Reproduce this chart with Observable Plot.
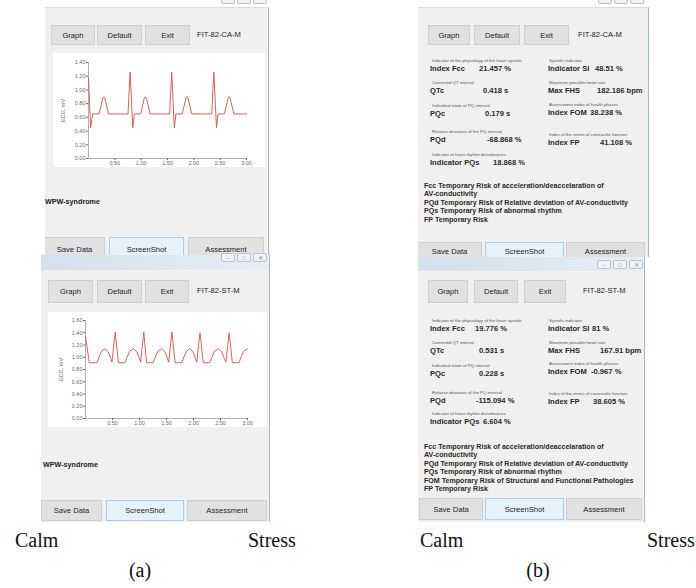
<!DOCTYPE html>
<html><head><meta charset="utf-8">
<script src="https://cdn.jsdelivr.net/npm/d3@7"></script>
<script src="https://cdn.jsdelivr.net/npm/@observablehq/plot@0.6"></script>
<style>
html,body{margin:0;padding:0;background:#fff;}
#page{position:relative;width:696px;height:588px;overflow:hidden;font-family:"Liberation Sans",Arial,sans-serif;}
.abs{position:absolute;box-sizing:border-box;}
.win{background:#f0f0f0;}
.btn{background:#e1e1e1;border:1px solid #cfcfcf;color:#222;font-size:7.6px;display:flex;align-items:center;justify-content:center;}
.btn.blue{background:#e5f1fb;border:1px solid #a8cdee;}
.t{position:absolute;white-space:nowrap;line-height:1;}
.title{background:linear-gradient(to right,#d3e0ed,#e6eef7);}
.ic{position:absolute;width:14px;height:9px;border:1px solid #b8c4d0;border-radius:2px;background:#eef3f8;color:#8a97a6;font-size:6px;display:flex;align-items:center;justify-content:center;box-sizing:border-box;}
.cap{font-family:"Liberation Serif","Times New Roman",serif;font-size:20px;color:#111;}
</style></head>
<body><div id="page"></div>
<script>
// ---------- data ----------
const xTicks = [0.5, 1.0, 1.5, 2.0, 2.5, 3.0];
const calmYTicks = [0, 0.2, 0.4, 0.6, 0.8, 1.0, 1.2, 1.4];
const stressYTicks = [0, 0.2, 0.4, 0.6, 0.8, 1.0, 1.2, 1.4, 1.6];

// Calm ECG (time s, mV)
const calmTime = [0.00,0.04,0.08,0.20,0.24,0.27,0.29,0.31,0.34,0.38,0.75,0.79,0.84,0.87,0.99,1.03,1.06,1.08,1.10,1.13,1.17,1.54,1.58,1.63,1.66,1.78,1.82,1.85,1.87,1.89,1.92,1.96,2.34,2.38,2.43,2.46,2.58,2.62,2.65,2.67,2.69,2.72,2.76,3.00];
const calmECG  = [1.17,0.45,0.65,0.65,0.78,0.88,0.90,0.88,0.78,0.65,0.65,1.26,0.45,0.65,0.65,0.78,0.88,0.90,0.88,0.78,0.65,0.65,1.26,0.45,0.65,0.65,0.78,0.88,0.90,0.88,0.78,0.65,0.65,1.26,0.45,0.65,0.65,0.78,0.88,0.90,0.88,0.78,0.65,0.65];

// Stress ECG (time s, mV)
const stressTime = [0.00,0.07,0.21,0.25,0.30,0.36,0.42,0.46,0.49,0.55,0.61,0.73,0.77,0.82,0.89,0.95,0.99,1.02,1.08,1.13,1.25,1.29,1.34,1.41,1.47,1.51,1.54,1.60,1.66,1.78,1.82,1.87,1.93,1.99,2.03,2.06,2.12,2.18,2.30,2.34,2.39,2.46,2.52,2.56,2.60,2.66,2.72,2.84,2.88,2.93,3.00];
const stressECG  = [1.34,0.91,0.91,1.00,1.10,1.14,1.09,1.00,0.92,1.41,0.91,0.91,1.00,1.10,1.14,1.09,1.00,0.92,1.41,0.91,0.91,1.00,1.10,1.14,1.09,1.00,0.92,1.41,0.91,0.91,1.00,1.10,1.14,1.09,1.00,0.92,1.40,0.91,0.91,1.00,1.10,1.14,1.09,1.00,0.92,1.40,0.91,0.91,1.00,1.10,1.14];

const buttonsTop = ["Graph", "Default", "Exit"];
const buttonsBottom = ["Save Data", "ScreenShot", "Assessment"];
const calmId = "FIT-82-CA-M";
const stressId = "FIT-82-ST-M";
const diagnosis = "WPW-syndrome";

const leftCaptions = ["Indicator of the physiology of the heart systole","Corrected QT interval","Individual norm of PQ interval","Relative deviation of the PQ interval","Indicator of heart rhythm disturbances"];
const leftNames = ["Index Fcc","QTc","PQc","PQd","Indicator PQs"];
const rightCaptions = ["Systolic indicator","Maximum possible heart rate","Assessment index of health phases","Index of the errors of contractile function"];
const rightNames = ["Indicator SI","Max FHS","Index FOM","Index FP"];
const calmLeftValues = ["21.457 %","0.418 s","0.179 s","-68.868 %","18.868 %"];
const calmRightValues = ["48.51 %","182.186 bpm","38.238 %","41.108 %"];
const stressLeftValues = ["19.776 %","0.531 s","0.228 s","-115.094 %","6.604 %"];
const stressRightValues = ["81 %","167.91 bpm","-0.967 %","38.605 %"];
const calmRisks = ["Fcc Temporary Risk of acceleration/deaccelaration of","AV-conductivity","PQd Temporary Risk of Relative deviation of AV-conductivity","PQs Temporary Risk of abnormal rhythm","FP Temporary Risk"];
const stressRisks = ["Fcc Temporary Risk of acceleration/deaccelaration of","AV-conductivity","PQd Temporary Risk of Relative deviation of AV-conductivity","PQs Temporary Risk of abnormal rhythm","FOM Temporary Risk of Structural and Functional Pathologies","FP Temporary Risk"];
const captions = ["Calm","Stress"];
const panelLabels = ["(a)","(b)"];

// ---------- helpers ----------
const page = document.getElementById("page");
function box(cls, x, y, w, h, style) {
  const d = document.createElement("div");
  d.className = "abs " + cls;
  Object.assign(d.style, {left: x + "px", top: y + "px", width: w + "px", height: h + "px"}, style || {});
  page.appendChild(d);
  return d;
}
function txt(s, x, y, size, style) {
  const d = document.createElement("div");
  d.className = "t";
  d.textContent = s;
  Object.assign(d.style, {left: x + "px", top: (y - size * 0.55) + "px", fontSize: size + "px"}, style || {});
  page.appendChild(d);
  return d;
}
function btn(label, x, y, w, h, blue) {
  const b = box("btn" + (blue ? " blue" : ""), x, y, w, h);
  b.textContent = label;
  return b;
}
function icons(x, y, glyphs) {
  ["\u2013", "\u25a1", "\u2715"].forEach((g, i) => {
    const d = document.createElement("div");
    d.className = "ic";
    d.style.left = (x + i * 16) + "px";
    d.style.top = y + "px";
    if (glyphs) d.textContent = g;
    page.appendChild(d);
  });
}
function clippedButtons(x, y, w, h, specs, pad) {
  const holder = box("", x, y, w, h, {overflow: "hidden"});
  specs.forEach(([bx, bw, blue], i) => {
    const b = document.createElement("div");
    b.className = "abs btn" + (blue ? " blue" : "");
    Object.assign(b.style, {left: bx + "px", top: "0px", width: bw + "px", height: (h + 8) + "px", alignItems: "flex-start", paddingTop: pad + "px"});
    if (i === 0) b.style.borderLeft = "none";
    b.textContent = buttonsBottom[i];
    holder.appendChild(b);
  });
}
const fmt = d3.format(".2f");
function ecgChart(times, values, yMax, yTicks, o) {
  const data = times.map((t, i) => ({t, v: values[i]}));
  const svg = Plot.plot({
    width: o.w, height: o.h,
    marginLeft: o.ml, marginRight: o.mr, marginTop: o.mt, marginBottom: o.mb,
    style: {fontSize: "5.5px", fontFamily: "Liberation Sans, Arial, sans-serif", color: "#6a6a6a", background: "white", overflow: "hidden"},
    x: {domain: [0, 3]},
    y: {domain: [0, yMax]},
    marks: [
      Plot.ruleY([0], {stroke: "#9a9a9a", strokeWidth: 0.8}),
      Plot.ruleX([0], {stroke: "#9a9a9a", strokeWidth: 0.8}),
      Plot.axisX({ticks: xTicks, tickFormat: fmt, tickSize: 2, tickPadding: 1, label: null}),
      Plot.axisY({ticks: yTicks, tickFormat: fmt, tickSize: 2, tickPadding: 1, label: "ECG, mV", labelAnchor: "center", labelArrow: "none", labelOffset: o.lo}),
      Plot.line(data, {x: "t", y: "v", stroke: "#d25050", strokeWidth: 0.9})
    ]
  });
  const holder = box("", o.x, o.y, o.w, o.h, {overflow: "hidden", background: "white"});
  holder.appendChild(svg);
}

// ---------- (a) calm window ----------
box("win", 45, 7, 224, 248, {borderRight: "1px solid #a9b6c4", borderTop: "1px solid #dcdcdc"});
icons(221, -5, false);
buttonsTop.forEach((b, i) => btn(b, [51, 97, 145][i], 25, [44, 45, 45][i], 20));
txt(calmId, 197, 35, 7.6, {color: "#222"});
ecgChart(calmTime, calmECG, 1.4, calmYTicks, {x: 53, y: 53, w: 212, h: 114, ml: 35, mr: 19, mt: 9, mb: 9, lo: 27});
txt(diagnosis, 45, 202, 7.2, {fontWeight: "bold", color: "#222"});
clippedButtons(45, 237, 224, 18, [[0, 60, false], [64, 75, true], [143, 76, false]], 7);

// ---------- (a) stress window ----------
box("title", 41, 255, 229, 15, {borderRight: "1px solid #a9b6c4"});
icons(221, 253, true);
box("win", 41, 270, 229, 252, {borderRight: "1px solid #a9b6c4"});
buttonsTop.forEach((b, i) => btn(b, [48, 97, 145][i], 280, [45, 45, 44][i], 23));
txt(stressId, 197, 291, 7.6, {color: "#222"});
ecgChart(stressTime, stressECG, 1.6, stressYTicks, {x: 48, y: 312, w: 219, h: 115, ml: 37, mr: 20, mt: 8, mb: 9, lo: 26});
txt(diagnosis, 43, 465, 7.2, {fontWeight: "bold", color: "#222"});
btn(buttonsBottom[0], 41, 500, 61, 21);
btn(buttonsBottom[1], 106, 500, 78, 21, true);
btn(buttonsBottom[2], 187, 500, 80, 21);

// ---------- (b) panels ----------
function infoPanel(leftVals, rightVals, risks, rows, rrows, riskTop, valX, rvalX) {
  leftNames.forEach((n, i) => {
    txt(leftCaptions[i], 432, rows[i] - 7.5, 4.4, {color: "#555"});
    txt(n, 430, rows[i], 7.6, {fontWeight: "bold", color: "#2a2a2a"});
    txt(leftVals[i], valX[i], rows[i], 7.6, {fontWeight: "bold", color: "#2a2a2a"});
  });
  rightNames.forEach((n, i) => {
    txt(rightCaptions[i], 549, rrows[i] - 7.5, 4.4, {color: "#555"});
    txt(n, 548, rrows[i], 7.6, {fontWeight: "bold", color: "#2a2a2a"});
    txt(rightVals[i], rvalX[i], rrows[i], 7.6, {fontWeight: "bold", color: "#2a2a2a"});
  });
  risks.forEach((r, i) => txt(r, 424, riskTop + i * 8.4, 7.1, {fontWeight: "bold", color: "#2a2a2a"}));
}

// calm (b)
box("win", 418, 7, 231, 250, {borderRight: "1px solid #a9b6c4", borderTop: "1px solid #dcdcdc"});
icons(598, -5, false);
buttonsTop.forEach((b, i) => btn(b, [428, 474, 524][i], 25, [42, 46, 45][i], 20));
txt(calmId, 578, 35, 7.6, {color: "#222"});
infoPanel(calmLeftValues, calmRightValues, calmRisks,
  [69, 91, 114, 140, 163], [69, 91, 113, 143], 187,
  [479, 483, 485, 487, 493], [595, 597, 590, 600]);
clippedButtons(418, 242, 231, 15, [[0, 64, false], [67, 79, true], [148, 79, false]], 4);

// stress (b)
box("title", 418, 257, 227, 14, {borderRight: "1px solid #a9b6c4"});
icons(597, 260, true);
box("win", 418, 271, 227, 251, {borderRight: "1px solid #a9b6c4"});
buttonsTop.forEach((b, i) => btn(b, [428, 474, 524][i], 280, [40, 44, 42][i], 23));
txt(stressId, 583, 291, 7.6, {color: "#222"});
infoPanel(stressLeftValues, stressRightValues, stressRisks,
  [329, 351, 374, 401, 422], [329, 351, 372, 402], 448,
  [475, 479, 479, 476, 483], [592, 600, 591, 593]);
btn(buttonsBottom[0], 419, 498, 64, 22);
btn(buttonsBottom[1], 485, 498, 79, 22, true);
btn(buttonsBottom[2], 566, 498, 76, 22);

// ---------- captions ----------
[[captions[0], 15], [captions[1], 248], [captions[0], 420], [captions[1], 647]].forEach(([s, x]) => {
  txt(s, x, 541, 20).className = "t cap";
});
const pa = txt(panelLabels[0], 140, 571, 20, {transform: "translateX(-50%)"}); pa.className = "t cap";
const pb = txt(panelLabels[1], 538, 571, 20, {transform: "translateX(-50%)"}); pb.className = "t cap";
</script></body></html>
